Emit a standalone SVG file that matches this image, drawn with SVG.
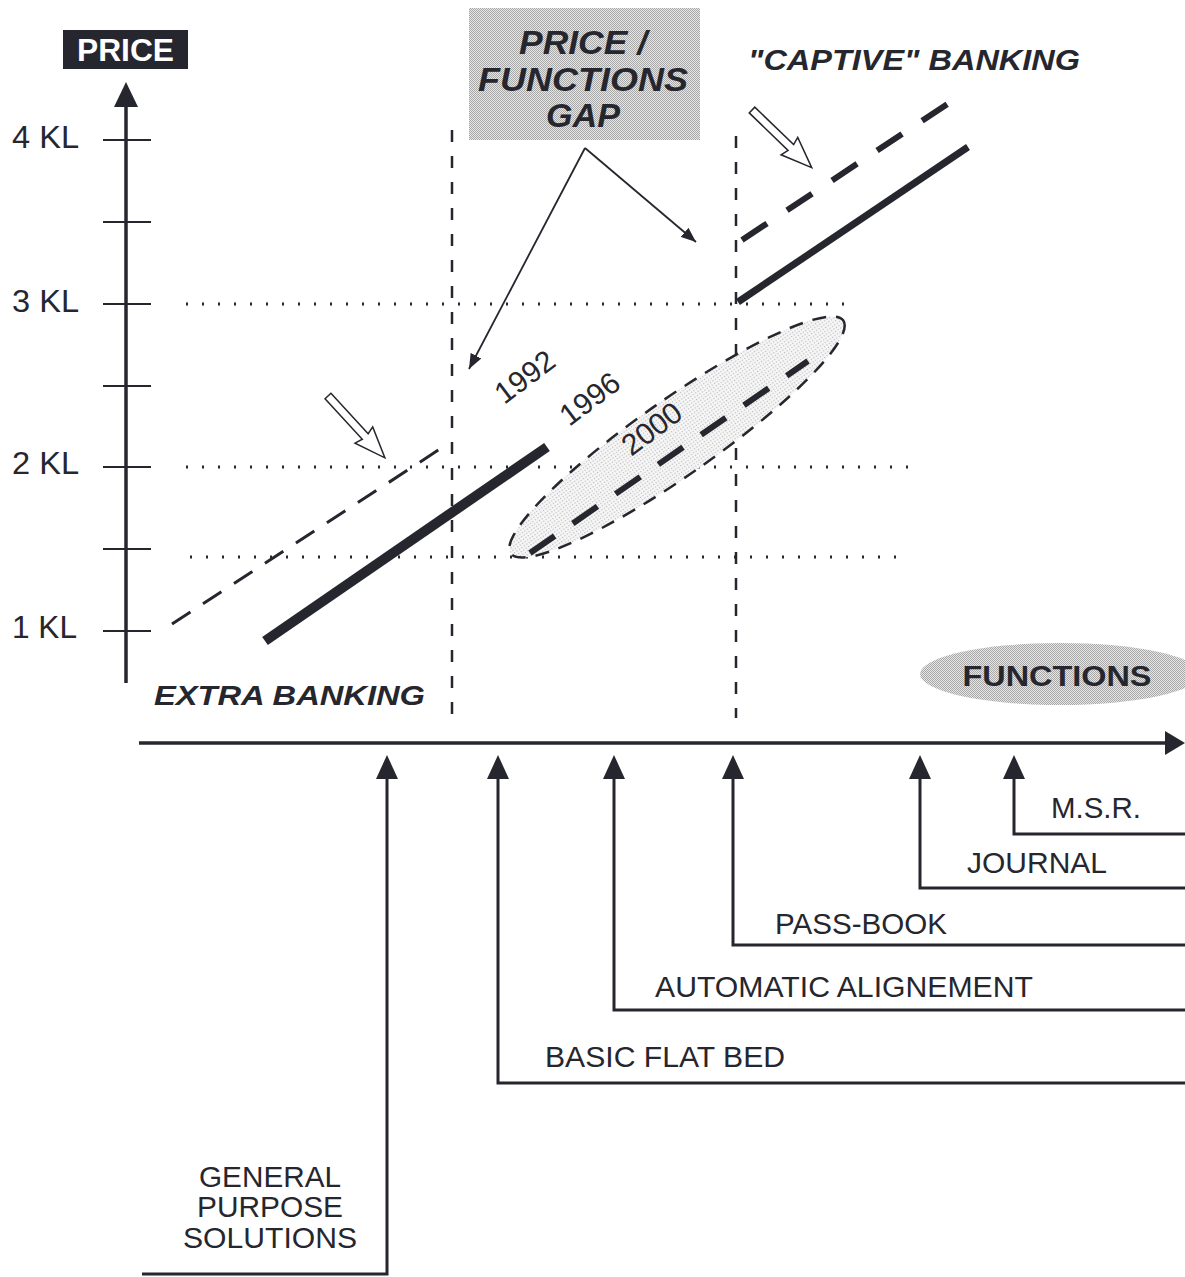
<svg xmlns="http://www.w3.org/2000/svg" width="1185" height="1277" viewBox="0 0 1185 1277">
<style>
.ln{stroke:#26262e;fill:none}
.lbl{font-family:"Liberation Sans",Arial,sans-serif;fill:#26262e}
.bi{font-family:"Liberation Sans",Arial,sans-serif;font-weight:bold;font-style:italic;fill:#26262e}
.dot{stroke:#26262e;stroke-width:3;stroke-dasharray:2 14;fill:none}
.vdash{stroke:#26262e;stroke-width:2.5;stroke-dasharray:12 14;fill:none}
.head{fill:#26262e}
.open{fill:#fff;stroke:#26262e;stroke-width:1.5}
</style>
<defs>
<pattern id="checker" width="2" height="2" patternUnits="userSpaceOnUse">
<rect width="2" height="2" fill="#e6e6e6"/>
<rect width="1" height="1" fill="#a8a8a8"/>
<rect x="1" y="1" width="1" height="1" fill="#a8a8a8"/>
</pattern>
<pattern id="light" width="3" height="3" patternUnits="userSpaceOnUse">
<rect width="3" height="3" fill="#f7f7f7"/>
<rect width="1.2" height="1.2" fill="#b8b8b8"/>
</pattern>
<marker id="tri" viewBox="0 0 10 10" refX="10" refY="5" markerWidth="15" markerHeight="12" markerUnits="userSpaceOnUse" orient="auto" preserveAspectRatio="none">
<path d="M0,0 L10,5 L0,10 z" class="head"/>
</marker>
</defs>
<rect width="1185" height="1277" fill="#fff"/>

<g id="price-label">
<rect x="63" y="30" width="125" height="39" fill="#26262e"/>
<text x="125.5" y="61" text-anchor="middle" font-family="Liberation Sans,Arial,sans-serif" font-weight="bold" font-size="31" fill="#fff" textLength="97" lengthAdjust="spacingAndGlyphs">PRICE</text>
</g>

<g id="y-axis">
<line class="ln" x1="126" y1="683" x2="126" y2="104" stroke-width="3.5"/>
<polygon class="head" points="126,82 114,107 138,107"/>
<g class="ln" stroke-width="1.8">
<line x1="103" y1="140" x2="151" y2="140"/>
<line x1="103" y1="222" x2="151" y2="222"/>
<line x1="103" y1="304" x2="151" y2="304"/>
<line x1="103" y1="386" x2="151" y2="386"/>
<line x1="103" y1="467" x2="151" y2="467"/>
<line x1="103" y1="549" x2="151" y2="549"/>
<line x1="103" y1="631" x2="151" y2="631"/>
</g>
<g class="lbl" font-size="31">
<text x="12" y="148" textLength="67" lengthAdjust="spacingAndGlyphs">4 KL</text>
<text x="12" y="312" textLength="67" lengthAdjust="spacingAndGlyphs">3 KL</text>
<text x="12" y="474" textLength="67" lengthAdjust="spacingAndGlyphs">2 KL</text>
<text x="12" y="638" textLength="65" lengthAdjust="spacingAndGlyphs">1 KL</text>
</g>
</g>

<g id="grid">
<line class="dot" x1="186" y1="304" x2="850" y2="304"/>
<line class="dot" x1="186" y1="467" x2="915" y2="467"/>
<line class="dot" x1="190" y1="557" x2="910" y2="557"/>
<line class="vdash" x1="452" y1="130" x2="452" y2="716"/>
<line class="vdash" x1="736" y1="136" x2="736" y2="718"/>
</g>

<g id="gap-box">
<rect x="469" y="8" width="231" height="132" fill="url(#checker)"/>
<g class="bi" font-size="33" text-anchor="middle">
<text x="583" y="54" textLength="128" lengthAdjust="spacingAndGlyphs">PRICE /</text>
<text x="583" y="91" textLength="210" lengthAdjust="spacingAndGlyphs">FUNCTIONS</text>
<text x="583" y="127" textLength="74" lengthAdjust="spacingAndGlyphs">GAP</text>
</g>
</g>

<g id="captive-label">
<text class="bi" x="748" y="70" font-size="29" textLength="332" lengthAdjust="spacingAndGlyphs">"CAPTIVE" BANKING</text>
</g>

<g id="extra-label">
<text class="bi" x="154" y="705" font-size="28" textLength="271" lengthAdjust="spacingAndGlyphs">EXTRA BANKING</text>
</g>

<g id="ellipse-2000">
<ellipse cx="677" cy="437" rx="203" ry="38" transform="rotate(-35 677 437)" fill="url(#light)" stroke="#26262e" stroke-width="2.5" stroke-dasharray="14 10"/>
</g>

<g id="price-lines">
<line class="ln" x1="172" y1="624" x2="443" y2="447" stroke-width="3" stroke-dasharray="22 15"/>
<line class="ln" x1="265" y1="641" x2="547" y2="447" stroke-width="10"/>
<line class="ln" x1="530" y1="553" x2="808" y2="361" stroke-width="6" stroke-dasharray="30 22"/>
<line class="ln" x1="738" y1="302" x2="968" y2="147" stroke-width="7"/>
<line class="ln" x1="742" y1="240" x2="958" y2="97" stroke-width="6" stroke-dasharray="30 24"/>
</g>

<g id="years" class="lbl" font-size="30" text-anchor="middle">
<text transform="translate(531,385) rotate(-37)">1992</text>
<text transform="translate(596,407) rotate(-37)">1996</text>
<text transform="translate(658,437) rotate(-37)">2000</text>
</g>

<g id="open-arrows">
<polygon class="open" transform="translate(328,396) rotate(47.4)" points="0,-4 55,-4 53,-12 84,0 53,12 55,4 0,4"/>
<polygon class="open" transform="translate(752,110) rotate(44)" points="0,-4 54,-4 52,-12 83,0 52,12 54,4 0,4"/>
</g>

<g id="functions-label">
<ellipse cx="1060" cy="674" rx="140" ry="31" fill="url(#checker)"/>
<text x="1057" y="686" text-anchor="middle" font-family="Liberation Sans,Arial,sans-serif" font-weight="bold" font-size="29" fill="#26262e" textLength="189" lengthAdjust="spacingAndGlyphs">FUNCTIONS</text>
</g>

<g id="x-axis">
<line class="ln" x1="139" y1="743" x2="1168" y2="743" stroke-width="3.5"/>
<polygon class="head" points="1185,743 1165,731 1165,755"/>
</g>

<g id="function-labels" class="lbl" font-size="29">
<text x="1051" y="818" textLength="90" lengthAdjust="spacingAndGlyphs">M.S.R.</text>
<text x="967" y="873" textLength="140" lengthAdjust="spacingAndGlyphs">JOURNAL</text>
<text x="775" y="934" textLength="172" lengthAdjust="spacingAndGlyphs">PASS-BOOK</text>
<text x="655" y="997" textLength="378" lengthAdjust="spacingAndGlyphs">AUTOMATIC ALIGNEMENT</text>
<text x="545" y="1067" textLength="240" lengthAdjust="spacingAndGlyphs">BASIC FLAT BED</text>
<text x="270" y="1187" text-anchor="middle" textLength="142" lengthAdjust="spacingAndGlyphs">GENERAL</text>
<text x="270" y="1217" text-anchor="middle" textLength="146" lengthAdjust="spacingAndGlyphs">PURPOSE</text>
<text x="270" y="1248" text-anchor="middle" textLength="174" lengthAdjust="spacingAndGlyphs">SOLUTIONS</text>
</g>

<g id="connectors">
<g class="ln" stroke-width="1.8">
<line x1="585" y1="148" x2="469" y2="369" marker-end="url(#tri)"/>
<line x1="585" y1="148" x2="696" y2="242" marker-end="url(#tri)"/>
</g>
<g class="ln" stroke-width="3">
<polyline points="142,1274 387,1274 387,776"/>
<polyline points="1185,1083 498,1083 498,776"/>
<polyline points="1185,1010 614,1010 614,776"/>
<polyline points="1185,945 733,945 733,776"/>
<polyline points="1185,888 920,888 920,776"/>
<polyline points="1185,834 1014,834 1014,776"/>
</g>
<g class="head">
<polygon points="387,755 376,779 398,779"/>
<polygon points="498,755 487,779 509,779"/>
<polygon points="614,755 603,779 625,779"/>
<polygon points="733,755 722,779 744,779"/>
<polygon points="920,755 909,779 931,779"/>
<polygon points="1014,755 1003,779 1025,779"/>
</g>
</g>
</svg>
